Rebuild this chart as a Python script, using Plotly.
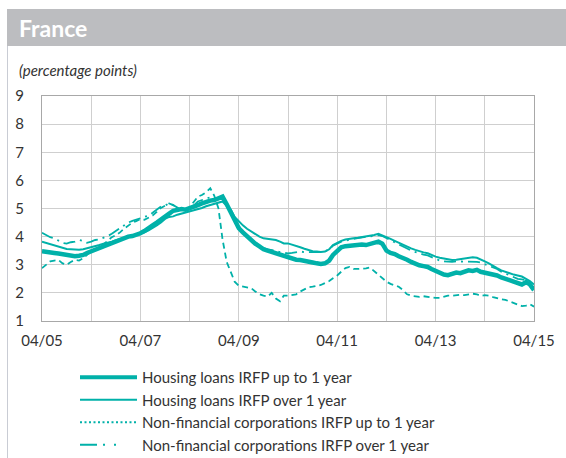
import pandas as pd
import plotly.graph_objects as go

# Monthly observations, April 2005 to April 2015
months = pd.date_range("2005-04-01", periods=121, freq="MS")

housing_up_to_1y = [
    3.48, 3.45, 3.43, 3.42, 3.40, 3.38, 3.33, 3.32, 3.30, 3.32, 3.35, 3.42,
    3.48, 3.53, 3.58, 3.65, 3.72, 3.78, 3.85, 3.90, 3.95, 4.00, 4.02, 4.06,
    4.12, 4.20, 4.28, 4.40, 4.50, 4.62, 4.75, 4.82, 4.92, 4.95, 4.98, 4.96,
    5.00, 5.05, 5.12, 5.18, 5.25, 5.28, 5.30, 5.35, 5.42, 5.15, 4.85, 4.55,
    4.30, 4.15, 4.00, 3.88, 3.75, 3.65, 3.55, 3.50, 3.45, 3.40, 3.35, 3.30,
    3.25, 3.20, 3.18, 3.17, 3.15, 3.10, 3.08, 3.05, 3.03, 3.05, 3.15, 3.35,
    3.50, 3.62, 3.66, 3.68, 3.70, 3.70, 3.72, 3.70, 3.74, 3.78, 3.82, 3.75,
    3.50, 3.42, 3.38, 3.30, 3.25, 3.18, 3.10, 3.03, 2.98, 2.95, 2.92, 2.85,
    2.78, 2.72, 2.65, 2.63, 2.68, 2.72, 2.70, 2.75, 2.80, 2.78, 2.82, 2.75,
    2.72, 2.70, 2.67, 2.62, 2.55, 2.48, 2.45, 2.40, 2.35, 2.30, 2.38, 2.30,
    2.10,
]

housing_over_1y = [
    3.82, 3.78, 3.74, 3.70, 3.65, 3.60, 3.56, 3.55, 3.53, 3.53, 3.55, 3.58,
    3.62, 3.66, 3.70, 3.75, 3.78, 3.82, 3.87, 3.92, 3.97, 4.00, 4.03, 4.06,
    4.10, 4.15, 4.22, 4.30, 4.40, 4.50, 4.63, 4.70, 4.72, 4.78, 4.82, 4.85,
    4.89, 4.93, 4.97, 5.02, 5.08, 5.12, 5.18, 5.22, 5.25, 5.10, 4.95, 4.70,
    4.53, 4.40, 4.28, 4.18, 4.10, 4.00, 3.94, 3.92, 3.90, 3.88, 3.82, 3.76,
    3.76, 3.72, 3.68, 3.62, 3.57, 3.52, 3.48, 3.47, 3.45, 3.47, 3.55, 3.70,
    3.78, 3.85, 3.90, 3.93, 3.94, 3.96, 3.98, 4.00, 4.02, 4.06, 4.10, 4.05,
    3.98, 3.92, 3.85, 3.78, 3.70, 3.65, 3.58, 3.53, 3.48, 3.44, 3.41, 3.35,
    3.29, 3.25, 3.22, 3.18, 3.17, 3.18, 3.20, 3.22, 3.25, 3.27, 3.25, 3.20,
    3.12, 3.05, 2.95, 2.88, 2.80, 2.74, 2.70, 2.65, 2.62, 2.58, 2.50, 2.42,
    2.30,
]

nfc_up_to_1y = [
    2.88, 3.00, 3.12, 3.15, 3.17, 3.05, 3.00, 3.10, 3.17, 3.15, 3.23, 3.35,
    3.47, 3.55, 3.62, 3.72, 3.85, 3.98, 4.05, 4.15, 4.28, 4.40, 4.50, 4.55,
    4.62, 4.60, 4.68, 4.75, 4.88, 5.02, 5.10, 5.18, 5.12, 5.00, 4.95, 4.90,
    5.05, 5.25, 5.42, 5.48, 5.58, 5.72, 5.45, 5.00, 3.90, 3.10, 2.70, 2.40,
    2.25, 2.22, 2.20, 2.17, 2.05, 1.95, 1.90, 1.87, 2.00, 1.80, 1.70, 1.90,
    1.90, 1.92, 1.95, 2.05, 2.12, 2.20, 2.22, 2.25, 2.28, 2.35, 2.42, 2.52,
    2.62, 2.75, 2.88, 2.92, 2.85, 2.85, 2.85, 2.87, 2.90, 2.78, 2.65, 2.52,
    2.40, 2.32, 2.28, 2.22, 2.10, 1.95, 1.90, 1.87, 1.86, 1.88, 1.85, 1.83,
    1.82, 1.82, 1.85, 1.90, 1.90, 1.92, 1.93, 1.92, 1.95, 1.97, 1.95, 1.89,
    1.92, 1.90, 1.85, 1.80, 1.77, 1.75, 1.70, 1.65, 1.60, 1.53, 1.55, 1.60,
    1.51,
]

nfc_over_1y = [
    4.14, 4.05, 3.98, 3.94, 3.85, 3.78, 3.75, 3.80, 3.82, 3.88, 3.85, 3.78,
    3.82, 3.88, 3.90, 3.95, 4.02, 4.10, 4.20, 4.30, 4.40, 4.50, 4.56, 4.60,
    4.65, 4.70, 4.75, 4.85, 4.95, 5.07, 5.10, 5.19, 5.12, 5.02, 4.95, 4.92,
    5.00, 5.10, 5.25, 5.30, 5.36, 5.40, 5.35, 5.38, 5.35, 5.05, 4.80, 4.55,
    4.35, 4.20, 4.05, 3.90, 3.80, 3.70, 3.60, 3.55, 3.53, 3.50, 3.45, 3.42,
    3.40, 3.42, 3.45, 3.47, 3.45, 3.45, 3.44, 3.45, 3.45, 3.48, 3.55, 3.68,
    3.75, 3.82, 3.86, 3.90, 3.92, 3.95, 3.97, 3.98, 4.00, 4.03, 4.05, 4.02,
    3.95, 3.88, 3.80, 3.72, 3.65, 3.58, 3.50, 3.45, 3.40, 3.36, 3.33, 3.28,
    3.20, 3.15, 3.12, 3.10, 3.10, 3.12, 3.12, 3.10, 3.10, 3.12, 3.10, 3.08,
    3.02, 2.98, 2.92, 2.85, 2.75, 2.68, 2.62, 2.55, 2.50, 2.48, 2.45, 2.35,
    2.20,
]

series_names = [
    "Housing loans IRFP up to 1 year",
    "Housing loans IRFP over 1 year",
    "Non-financial corporations IRFP up to 1 year",
    "Non-financial corporations IRFP over 1 year",
]

tick_dates = pd.date_range("2005-04-01", periods=11, freq="12MS")
tick_labels = ["04/05", "", "04/07", "", "04/09", "", "04/11", "", "04/13", "", "04/15"]

TEAL = "#00B1A9"
FONT = "Lato"

fig = go.Figure()

# Lines drawn on the chart
fig.add_trace(go.Scatter(x=months, y=nfc_up_to_1y, mode="lines", showlegend=False,
                         line=dict(color=TEAL, width=1.8, dash="6px,4px")))
fig.add_trace(go.Scatter(x=months, y=nfc_over_1y, mode="lines", showlegend=False,
                         line=dict(color=TEAL, width=1.8, dash="12px,5px,2px,5px")))
fig.add_trace(go.Scatter(x=months, y=housing_over_1y, mode="lines", showlegend=False,
                         line=dict(color=TEAL, width=2)))
fig.add_trace(go.Scatter(x=months, y=housing_up_to_1y, mode="lines", showlegend=False,
                         line=dict(color=TEAL, width=4.5)))

# Legend entries
legend_styles = [
    dict(color=TEAL, width=4),
    dict(color=TEAL, width=2),
    dict(color=TEAL, width=2, dash="2px,2.5px"),
    dict(color=TEAL, width=2, dash="17px,6px,2px,9px,2px,30px"),
]
for name, style in zip(series_names, legend_styles):
    fig.add_trace(go.Scatter(x=[None], y=[None], mode="lines", name=name, line=style))

L, R, T, B = 42, 32, 96, 137
W, H = 566, 458
pw, ph = W - L - R, H - T - B


def px_x(p):
    return (p - L) / pw


def px_y(p):
    return (H - B - p) / ph


fig.update_layout(
    width=W, height=H,
    margin=dict(l=L, r=R, t=T, b=B, autoexpand=False),
    paper_bgcolor="white", plot_bgcolor="white",
    font=dict(family=FONT, color="#333333", size=14),
    xaxis=dict(
        type="date",
        range=[months[0], months[-1]],
        tickvals=tick_dates, ticktext=tick_labels,
        showgrid=True, gridcolor="#CFCFCF", gridwidth=1,
        showline=True, linecolor="#A8A8A8", linewidth=1, mirror=True,
        ticks="", tickfont=dict(size=15, family=FONT, color="#333333"),
        ticklabelstandoff=6,
        zeroline=False,
    ),
    yaxis=dict(
        range=[1, 9], dtick=1, tick0=1,
        showgrid=True, gridcolor="#CFCFCF", gridwidth=1,
        showline=True, linecolor="#A8A8A8", linewidth=1, mirror=True,
        ticks="", tickfont=dict(size=15, family=FONT, color="#333333"),
        ticklabelstandoff=14,
        zeroline=False,
    ),
    legend=dict(
        x=px_x(75), y=px_y(361), xanchor="left", yanchor="top",
        font=dict(size=15, family=FONT, color="#333333"),
        bgcolor="rgba(0,0,0,0)", tracegroupgap=0, itemwidth=57,
    ),
    shapes=[
        dict(type="rect", xref="paper", yref="paper",
             x0=px_x(7), x1=px_x(566), y0=px_y(46), y1=px_y(9),
             fillcolor="#BCBDC0", line=dict(width=0), layer="below"),
        dict(type="line", xref="paper", yref="paper",
             x0=px_x(7.5), x1=px_x(7.5), y0=px_y(46), y1=px_y(458),
             line=dict(color="#C9CCD4", width=1)),
    ],
    annotations=[
        dict(text="<b>France</b>", xref="paper", yref="paper",
             x=px_x(17), y=px_y(28), xanchor="left", yanchor="middle",
             showarrow=False, font=dict(size=23, family=FONT, color="white")),
        dict(text="<i>(percentage points)</i>", xref="paper", yref="paper",
             x=px_x(17), y=px_y(70), xanchor="left", yanchor="middle",
             showarrow=False, font=dict(size=15, family=FONT, color="#333333")),
    ],
)

fig.write_html("out.html")
